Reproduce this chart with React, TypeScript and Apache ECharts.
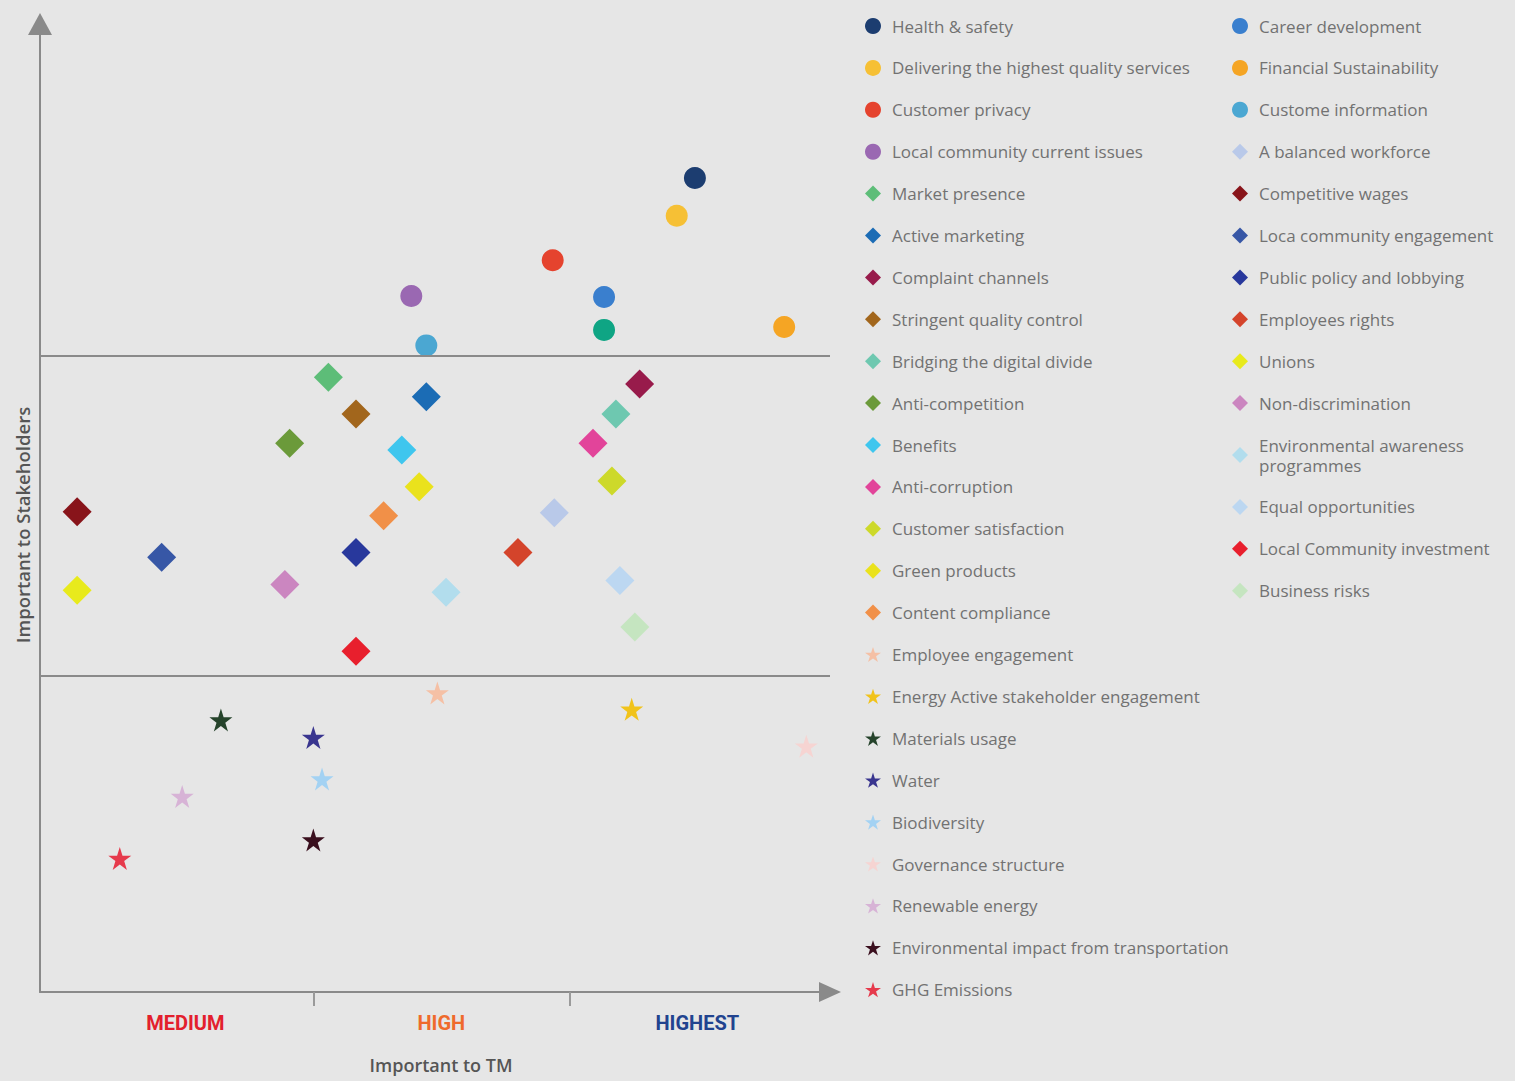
import React, { useEffect, useRef } from 'react';
import * as echarts from 'echarts';

const STAR = 'path://M50,0 L61.2,34.5 L97.6,34.5 L68.2,55.9 L79.4,90.5 L50,69.1 L20.6,90.5 L31.8,55.9 L2.4,34.5 L38.8,34.5 Z';

const topicNames = [
  'Health & safety', 'Delivering the highest quality services', 'Customer privacy', 'Local community current issues',
  'Market presence', 'Active marketing', 'Complaint channels', 'Stringent quality control',
  'Bridging the digital divide', 'Anti-competition', 'Benefits', 'Anti-corruption',
  'Customer satisfaction', 'Green products', 'Content compliance', 'Employee engagement',
  'Energy Active stakeholder engagement', 'Materials usage', 'Water', 'Biodiversity',
  'Governance structure', 'Renewable energy', 'Environmental impact from transportation', 'GHG Emissions',
  'Career development', 'Financial Sustainability', 'Custome information', 'A balanced workforce',
  'Competitive wages', 'Loca community engagement', 'Public policy and lobbying', 'Employees rights',
  'Unions', 'Non-discrimination', 'Environmental awareness programmes', 'Equal opportunities',
  'Local Community investment', 'Business risks', 'Unlabelled topic',
];

const importanceTM = [
  82.9, 80.6, 64.9, 47.0,
  36.5, 48.9, 75.9, 40.0,
  72.9, 31.6, 45.8, 70.0,
  72.4, 48.0, 43.5, 50.3,
  74.9, 22.9, 34.6, 35.7,
  97.0, 18.0, 34.6, 10.1,
  71.4, 94.2, 48.9, 65.1,
  4.7, 15.4, 40.0, 60.5,
  4.7, 31.0, 51.4, 73.4,
  40.0, 75.3, 71.4,
];

const importanceStakeholders = [
  84.1, 80.2, 75.6, 71.9,
  63.5, 61.5, 62.8, 59.7,
  59.7, 56.7, 56.0, 56.7,
  52.8, 52.2, 49.2, 30.9,
  29.2, 28.1, 26.3, 22.0,
  25.4, 20.2, 15.7, 13.8,
  71.8, 68.7, 66.8, 49.5,
  49.6, 44.9, 45.4, 45.4,
  41.5, 42.1, 41.3, 42.5,
  35.2, 37.7, 68.4,
];

const topicColors = [
  '#1c3d70', '#f6c035', '#e5432e', '#9a68b2',
  '#5dbd78', '#1b6cb5', '#981b4b', '#a2661c',
  '#6ec8b0', '#6b9a3a', '#3fc6ee', '#e2449a',
  '#cdd92a', '#eae21c', '#f19048', '#f5c0a5',
  '#f1c31a', '#25432b', '#39358f', '#a3d2f3',
  '#f6d4d2', '#d7b3d6', '#3a0f1e', '#e63a4c',
  '#3a7fce', '#f5a524', '#4ba7d2', '#b9c9e9',
  '#88141a', '#3757a6', '#28389c', '#d4442b',
  '#e8ea1c', '#cb86c0', '#b2dded', '#bcd7f1',
  '#e81f2d', '#c5e5c0', '#0fa584',
];

const topicShapes = [
  'circle', 'circle', 'circle', 'circle',
  'diamond', 'diamond', 'diamond', 'diamond',
  'diamond', 'diamond', 'diamond', 'diamond',
  'diamond', 'diamond', 'diamond', 'star',
  'star', 'star', 'star', 'star',
  'star', 'star', 'star', 'star',
  'circle', 'circle', 'circle', 'diamond',
  'diamond', 'diamond', 'diamond', 'diamond',
  'diamond', 'diamond', 'diamond', 'diamond',
  'diamond', 'diamond', 'circle',
];

const legendLeftColumn = topicNames.slice(0, 24);
const legendRightColumn = topicNames.slice(24, 38);

const bandLabels = ['MEDIUM', 'HIGH', 'HIGHEST'];
const bandLabelValues = [18.4, 50.8, 83.2];
const bandBoundaryValues = [34.6, 67.0];
const stakeholderBoundaryValues = [32.7, 65.7];

const symbolFor = (s: string) => (s === 'star' ? STAR : s);
const sizeFor = (s: string) => (s === 'circle' ? 22 : s === 'diamond' ? 29 : 23);

export default function App() {
  const ref = useRef<HTMLDivElement>(null);
  useEffect(() => {
    if (!ref.current) return;
    const chart = echarts.init(ref.current, undefined, { renderer: 'svg' });
    const series: any[] = topicNames.map((name, i) => ({
      type: 'scatter',
      name,
      data: [[importanceTM[i], importanceStakeholders[i]]],
      symbol: symbolFor(topicShapes[i]),
      symbolSize: sizeFor(topicShapes[i]),
      itemStyle: { color: topicColors[i], opacity: 1 },
      z: 3,
    }));
    series.push({
      type: 'scatter',
      name: 'dividers',
      data: [],
      silent: true,
      markLine: {
        symbol: ['none', 'none'],
        silent: true,
        label: { show: false },
        lineStyle: { color: '#8a8a8a', width: 2, type: 'solid' },
        data: stakeholderBoundaryValues.map((v) => ({ yAxis: v })),
      },
    });
    const legendBase = {
      orient: 'vertical',
      selectedMode: false,
      itemWidth: 16,
      itemHeight: 16,
      itemGap: 21.9,
      textStyle: { fontSize: 17, color: '#727272', fontFamily: 'Open Sans', lineHeight: 20, padding: [0, 0, 0, 6] },
      formatter: (n: string) => (n === 'Environmental awareness programmes' ? 'Environmental awareness\nprogrammes' : n),
    };
    chart.setOption({
      animation: false,
      backgroundColor: '#e6e6e6',
      grid: { left: 40, top: 24, width: 790, height: 968 },
      legend: [
        { ...legendBase, left: 860, top: 11, data: legendLeftColumn },
        { ...legendBase, left: 1227, top: 11, data: legendRightColumn },
      ],
      xAxis: {
        type: 'value',
        min: 0,
        max: 100,
        name: 'Important to TM',
        nameLocation: 'middle',
        nameGap: 64,
        nameTextStyle: { fontSize: 18, fontWeight: 600, color: '#555', fontFamily: 'Open Sans', padding: [0, 0, 0, 12] },
        splitLine: { show: false },
        axisLine: {
          show: true,
          symbol: ['none', 'triangle'],
          symbolSize: [20, 22],
          lineStyle: { color: '#8a8a8a', width: 2 },
        },
        axisTick: {
          show: true,
          customValues: bandBoundaryValues,
          length: 14,
          lineStyle: { color: '#9a9a9a', width: 2 },
        },
        axisLabel: {
          show: true,
          customValues: bandLabelValues,
          margin: 21,
          formatter: (v: number) => {
            let k = 0;
            bandLabelValues.forEach((b, j) => {
              if (Math.abs(b - v) < Math.abs(bandLabelValues[k] - v)) k = j;
            });
            return `{b${k}|${bandLabels[k]}}`;
          },
          rich: {
            b0: { color: '#e3202d', fontSize: 20, fontWeight: 'bold', fontFamily: 'Roboto' },
            b1: { color: '#ef6a2c', fontSize: 20, fontWeight: 'bold', fontFamily: 'Roboto' },
            b2: { color: '#21438f', fontSize: 20, fontWeight: 'bold', fontFamily: 'Roboto' },
          },
        },
      },
      yAxis: {
        type: 'value',
        min: 0,
        max: 100,
        splitLine: { show: false },
        axisTick: { show: false },
        axisLabel: { show: false },
        axisLine: {
          show: true,
          symbol: ['none', 'triangle'],
          symbolSize: [24, 22],
          lineStyle: { color: '#8a8a8a', width: 2 },
        },
      },
      graphic: [
        {
          type: 'text',
          x: 22,
          y: 525,
          rotation: Math.PI / 2,
          style: {
            text: 'Important to Stakeholders',
            fontSize: 18.5,
            fontWeight: 600,
            fill: '#555',
            fontFamily: 'Open Sans',
            align: 'center',
            verticalAlign: 'middle',
          },
        },
      ],
      series,
    });
    return () => chart.dispose();
  }, []);
  return (
    <div
      ref={ref}
      style={{ position: 'absolute', left: 0, top: 0, width: 1515, height: 1081, background: '#e6e6e6' }}
    />
  );
}
